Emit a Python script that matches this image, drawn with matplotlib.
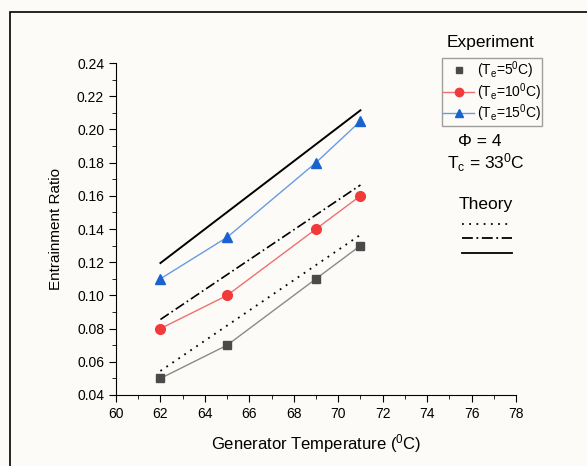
import matplotlib
matplotlib.use("Agg")
import matplotlib.pyplot as plt
from matplotlib.patches import Rectangle
from matplotlib.lines import Line2D
from matplotlib.ticker import MultipleLocator

plt.rcParams['font.family'] = ['Liberation Sans', 'DejaVu Sans']
plt.rcParams['mathtext.default'] = 'regular'

# experiment data
tg = [62, 65, 69, 71]
er_te5 = [0.05, 0.07, 0.11, 0.13]
er_te10 = [0.08, 0.10, 0.14, 0.16]
er_te15 = [0.11, 0.135, 0.18, 0.205]

# theory lines
tg_th = [62, 71]
th_te5 = [0.0545, 0.1365]
th_te10 = [0.0855, 0.1665]
th_te15 = [0.1195, 0.2115]

bg = '#fcfbf7'
fig = plt.figure(figsize=(5.87, 4.66), dpi=100)
fig.patch.set_facecolor(bg)
fig.patches.append(Rectangle((10/587, -0.05), 1.2, 1 - 12/466 + 0.05,
                             transform=fig.transFigure, fill=False,
                             edgecolor='black', lw=1.2))
ax = fig.add_axes([116/587, 1 - 395/466, 400/587, 332/466])
ax.set_facecolor(bg)

ax.plot(tg, er_te5, color='#8a8a8a', lw=1, marker='s', ms=6,
        mfc='#4a4a4a', mec='#4a4a4a')
ax.plot(tg, er_te10, color='#f07070', lw=1, marker='o', ms=7,
        mfc='#f23a3a', mec='#f23a3a')
ax.plot(tg, er_te15, color='#6a9be0', lw=1, marker='^', ms=7,
        mfc='#1a62d0', mec='#1a62d0')

ax.plot(tg_th, th_te5, color='black', lw=1.3, ls=(0, (1, 3)))
ax.plot(tg_th, th_te10, color='black', lw=1.2, ls=(0, (6, 2, 1, 2)))
ax.plot(tg_th, th_te15, color='black', lw=1.4)

ax.set_xlim(60, 78)
ax.set_ylim(0.04, 0.24)
ax.xaxis.set_major_locator(MultipleLocator(2))
ax.xaxis.set_minor_locator(MultipleLocator(1))
ax.yaxis.set_major_locator(MultipleLocator(0.02))
ax.yaxis.set_minor_locator(MultipleLocator(0.01))
ax.yaxis.set_major_formatter(matplotlib.ticker.FormatStrFormatter('%.2f'))
ax.spines['top'].set_visible(False)
ax.spines['right'].set_visible(False)
ax.tick_params(which='major', direction='out', length=5, labelsize=10)
ax.tick_params(which='minor', direction='out', length=3)
ax.set_xlabel('Generator Temperature ($^{0}$C)', fontsize=12, labelpad=8)
ax.set_ylabel('Entrainment Ratio', fontsize=11, labelpad=10)

handles = [
    Line2D([], [], ls='none', marker='s', ms=5, mfc='#4a4a4a', mec='#4a4a4a'),
    Line2D([], [], color='#f07070', lw=1, marker='o', ms=6,
           mfc='#f23a3a', mec='#f23a3a'),
    Line2D([], [], color='#6a9be0', lw=1, marker='^', ms=6,
           mfc='#1a62d0', mec='#1a62d0'),
]
labels = ['(T$_e$=5$^0$C)', '(T$_e$=10$^0$C)', '(T$_e$=15$^0$C)']
leg = fig.legend(handles, labels, loc='upper left',
                 bbox_to_anchor=(442/587, 1 - 58/466), fontsize=10,
                 frameon=True, fancybox=False, edgecolor='#888888',
                 handlelength=2.2, handletextpad=0.2, borderpad=0.1,
                 labelspacing=0.0, borderaxespad=0)
leg.get_frame().set_facecolor(bg)

fig.text(490/587, 1 - 42/466, 'Experiment', fontsize=12.5, ha='center', va='center')
fig.text(480/587, 1 - 142/466, '\u03a6 = 4', fontsize=12.5, ha='center', va='center')
fig.text(486/587, 1 - 163/466, 'T$_c$ = 33$^0$C', fontsize=12.5, ha='center', va='center')
fig.text(486/587, 1 - 205/466, 'Theory', fontsize=12.5, ha='center', va='center')
for yy, st in [(224, (0, (1, 3))), (238, (0, (6, 2, 1, 2))), (253, '-')]:
    fig.add_artist(Line2D([462/587, 512/587], [1 - yy/466, 1 - yy/466],
                          color='black', lw=1.3, ls=st,
                          transform=fig.transFigure))

fig.savefig('out.png', dpi=100, facecolor=bg)
